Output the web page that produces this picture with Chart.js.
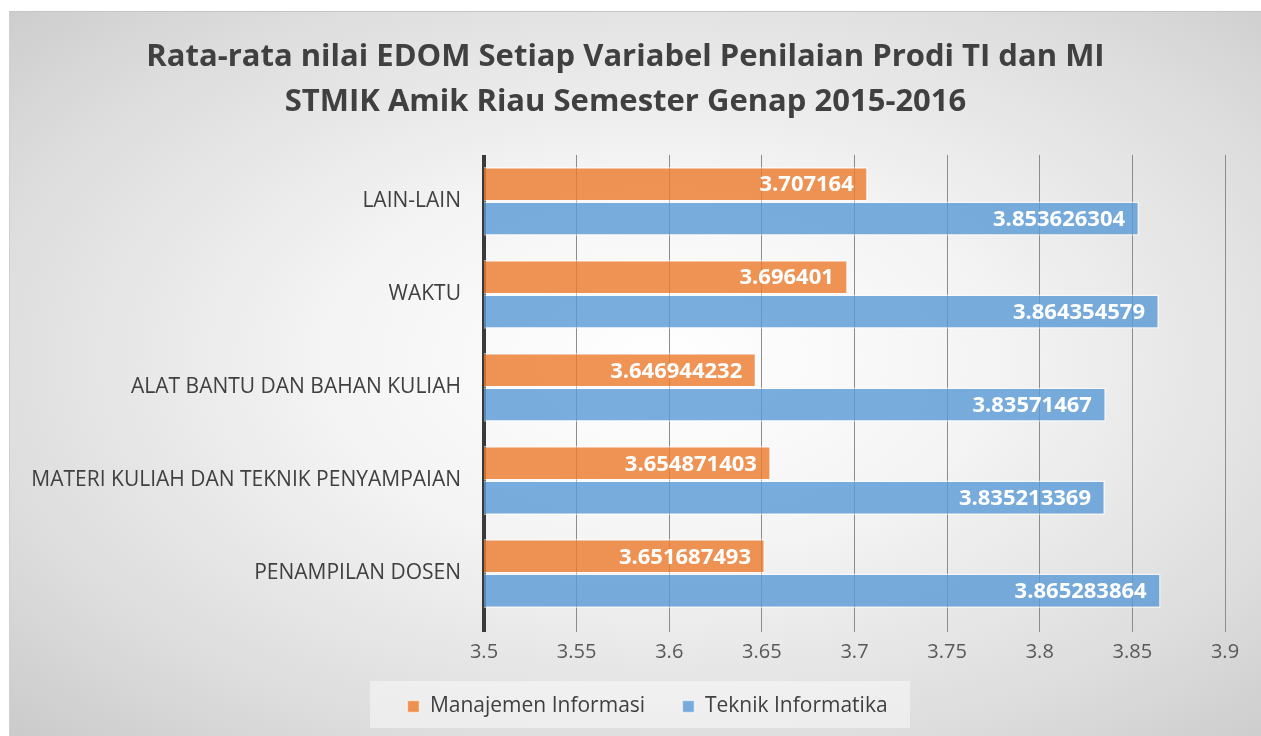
<!DOCTYPE html>
<html>
<head>
<meta charset="utf-8">
<script src="https://cdn.jsdelivr.net/npm/chart.js@4.4.1/dist/chart.umd.min.js"></script>
<style>
  html, body { margin: 0; padding: 0; background: #fff; }
  #wrap { position: relative; width: 1261px; height: 736px; overflow: hidden; }
  #bg {
    position: absolute; left: 9px; top: 11px; right: 0; bottom: 0;
    border-top: 1px solid #c4c4c4; border-left: 1px solid #d0d0d0;
    background: radial-gradient(ellipse 75% 75% at 52% 48%, #ffffff 0%, #f4f4f4 35%, #dcdcdc 75%, #c9c9c9 100%);
  }
  #chart { position: absolute; left: 0; top: 0; }
</style>
</head>
<body>
<div id="wrap">
  <div id="bg"></div>
  <canvas id="chart" width="1261" height="736"></canvas>
</div>
<script>
// categories, top to bottom
const kategori = ['LAIN-LAIN', 'WAKTU', 'ALAT BANTU DAN BAHAN KULIAH', 'MATERI KULIAH DAN TEKNIK PENYAMPAIAN', 'PENAMPILAN DOSEN'];
const nilaiMI = [3.707164, 3.696401, 3.646944232, 3.654871403, 3.651687493];
const nilaiTI = [3.853626304, 3.864354579, 3.83571467, 3.835213369, 3.865283864];
const judul = ['Rata-rata nilai EDOM Setiap Variabel Penilaian Prodi TI dan MI', 'STMIK Amik Riau Semester Genap 2015-2016'];

const teksGelap = '#404040';

// label nilai putih di ujung batang
const labelNilai = {
  id: 'labelNilai',
  afterDatasetsDraw(chart) {
    const ctx = chart.ctx;
    ctx.save();
    ctx.font = 'bold 22px "Open Sans"';
    ctx.fillStyle = '#ffffff';
    ctx.textAlign = 'right';
    ctx.textBaseline = 'middle';
    chart.data.datasets.forEach((ds, i) => {
      chart.getDatasetMeta(i).data.forEach((bar, j) => {
        ctx.fillText(String(ds.data[j]), bar.x - 14, bar.y + 1);
      });
    });
    ctx.restore();
  }
};

// kotak latar legenda + geser judul/legenda sedikit ke kanan
const latarLegenda = {
  id: 'latarLegenda',
  afterLayout(chart) {
    chart.titleBlock.left += 13;
    chart.titleBlock.right += 13;
    chart.legend.left += 35;
    chart.legend.right += 35;
  },
  beforeDraw(chart) {
    const ctx = chart.ctx;
    ctx.save();
    ctx.fillStyle = 'rgba(255,255,255,0.45)';
    ctx.fillRect(370, 681, 540, 47);
    ctx.restore();
  }
};

new Chart(document.getElementById('chart'), {
  type: 'bar',
  data: {
    labels: kategori,
    datasets: [
      { label: 'Manajemen Informasi', data: nilaiMI, backgroundColor: 'rgba(237,125,49,0.82)', borderColor: 'rgba(255,255,255,0.55)', borderWidth: 1.5 },
      { label: 'Teknik Informatika', data: nilaiTI, backgroundColor: 'rgba(91,155,213,0.82)', borderColor: 'rgba(255,255,255,0.55)', borderWidth: 1.5 }
    ]
  },
  options: {
    indexAxis: 'y',
    responsive: false,
    animation: false,
    layout: { padding: { left: 0, right: 36, top: 0, bottom: 9 } },
    datasets: { bar: { categoryPercentage: 0.74, barPercentage: 1.0 } },
    scales: {
      x: {
        min: 3.5, max: 3.9,
        ticks: { stepSize: 0.05, color: '#595959', font: { family: 'Open Sans', size: 20 }, padding: 8,
          callback: v => String(Math.round(v * 100) / 100) },
        grid: {
          color: c => c.index === 0 ? '#3a3a3a' : '#8c8c8c',
          lineWidth: c => c.index === 0 ? 4 : 1,
          tickLength: 12
        },
        border: { display: false },
        afterFit(scale) { scale.height = 66; }
      },
      y: {
        ticks: { color: teksGelap, font: { family: 'Open Sans', size: 21 }, padding: 15 },
        grid: { display: false },
        border: { display: false },
        afterFit(scale) { scale.width = 484; }
      }
    },
    plugins: {
      title: {
        display: true, text: judul, color: teksGelap,
        font: { family: 'Open Sans', size: 31, weight: 'bold', lineHeight: 1.45 },
        padding: { top: 35, bottom: 30 }
      },
      legend: {
        position: 'bottom',
        labels: {
          color: teksGelap, font: { family: 'Open Sans', size: 21 }, boxWidth: 12, boxHeight: 12, padding: 10,
          // jarak antar item dibuat lebar dengan spasi di belakang teks
          generateLabels(chart) {
            const items = Chart.defaults.plugins.legend.labels.generateLabels(chart);
            items[0].text = items[0].text + '     ';
            return items;
          }
        }
      },
      tooltip: { enabled: false }
    }
  },
  plugins: [latarLegenda, labelNilai]
});
</script>
</body>
</html>
